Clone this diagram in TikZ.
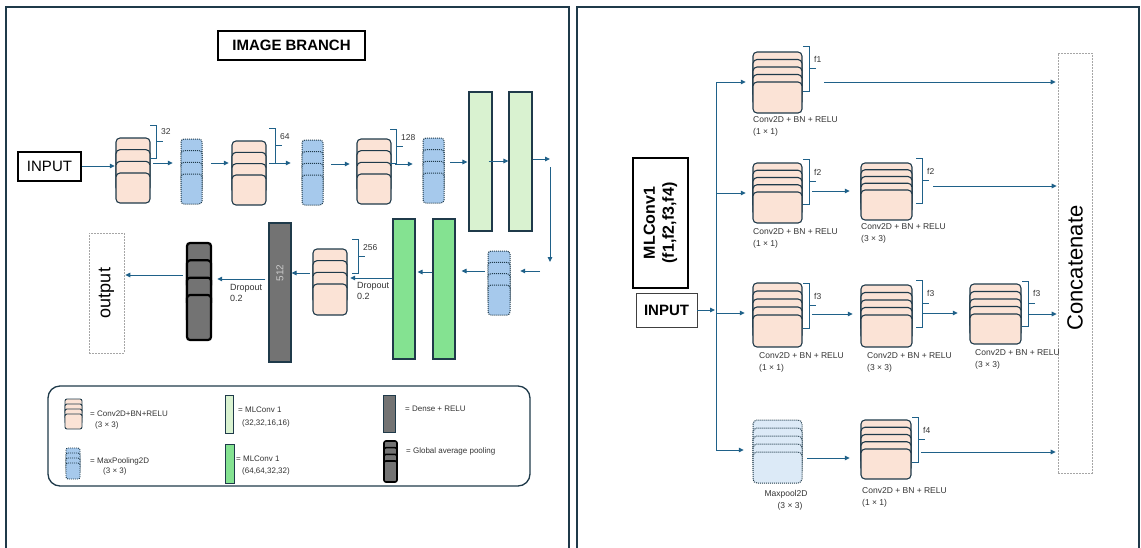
\documentclass[tikz,border=0pt]{standalone}
\usepackage{fontspec}
\setmainfont{Liberation Sans}
\usetikzlibrary{arrows.meta,fit,calc}
\definecolor{navy}{HTML}{1F3A4A}
\definecolor{arrowc}{HTML}{1F6189}
\definecolor{peach}{HTML}{FBE3D6}
\definecolor{poolblue}{HTML}{A6C9EC}
\definecolor{paleblue}{HTML}{DCEAF7}
\definecolor{lgreen}{HTML}{D9F2D0}
\definecolor{dgreen}{HTML}{84E291}
\definecolor{densegray}{HTML}{737373}
\definecolor{dashgray}{HTML}{A6A6A6}
\newcommand{\stk}[8]{%
  \node[fit={(#2,#3) (#4,#5)}, inner sep=0pt] (#1) {};
  \pgfmathsetmacro\stkoff{(#5-#7-#3)/(#6-1)}
  \foreach \k in {1,...,#6}{
    \pgfmathsetmacro\stkt{#3+(\k-1)*\stkoff}
    \draw[#8] (#2,\stkt) rectangle (#4,\stkt+#7);
  }
}
\newcommand{\brk}[6]{%
  \draw[brk] (#2,#3) -- (#2+6,#3) -- (#2+6,#4) -- (#2,#4);
  \draw[brk] (#2+6,{(#3+#4)/2}) -- (#2+13,{(#3+#4)/2});
  \node[lbl, anchor=west] (#1) at (#2+10,#3+#6) {#5};
}
\begin{document}
\begin{tikzpicture}[x=1pt,y=-1pt,
  convcard/.style={draw=navy, fill=peach, line width=1.1pt, rounded corners=4pt},
  poolcard/.style={draw=navy, fill=poolblue, line width=1pt, densely dotted, rounded corners=3pt},
  lpoolcard/.style={draw=navy, fill=paleblue, line width=1pt, densely dotted, rounded corners=4pt},
  gapcard/.style={draw=black, fill=densegray, line width=2.2pt, rounded corners=3pt},
  lgbox/.style={draw=navy, fill=lgreen, line width=1.1pt, inner sep=0pt},
  dgbox/.style={draw=navy, fill=dgreen, line width=1.1pt, inner sep=0pt},
  densebox/.style={draw=navy, fill=densegray, line width=1.1pt, inner sep=0pt},
  dashbox/.style={draw=dashgray, dash pattern=on 2pt off 1pt, line width=0.6pt, inner sep=0pt},
  arr/.style={draw=arrowc, line width=1pt, -{Triangle[length=5pt,width=4.5pt]}},
  trunk/.style={draw=arrowc, line width=1pt},
  brk/.style={draw=arrowc, line width=1pt},
  lbl/.style={inner sep=1pt, font=\fontsize{8.5}{10}\selectfont, text=black!80},
  small/.style={inner sep=0pt, font=\fontsize{8.5}{12}\selectfont, text=black!80, align=left},
  leg/.style={inner sep=0pt, anchor=west, font=\fontsize{8}{9}\selectfont, text=black!80},
  panel/.style={draw=navy, line width=1.4pt}
]
\useasboundingbox (0,0) rectangle (1141,547);
% panels
\draw[panel] (6,549) -- (6,7) -- (569,7) -- (569,549);
\draw[panel] (577,549) -- (577,7) -- (1139,7) -- (1139,549);

% ================= LEFT: IMAGE BRANCH =================
\node[draw=black, line width=1.8pt, minimum width=147pt, minimum height=29pt, inner sep=0pt,
      font=\fontsize{15}{18}\selectfont\bfseries] (title) at (291.5,45.5) {IMAGE BRANCH};
\node[draw=black, line width=1.6pt, minimum width=63pt, minimum height=29pt, inner sep=0pt,
      font=\fontsize{15}{18}\selectfont] (in1) at (49.5,166.5) {INPUT};

\stk{c1}{116}{138}{150}{203}{4}{30}{convcard}
\stk{p1}{181}{139}{202}{204}{4}{30}{poolcard}
\stk{c2}{232}{141}{266}{205}{4}{30}{convcard}
\stk{p2}{302}{140}{323}{205}{4}{30}{poolcard}
\stk{c3}{357}{139}{391}{204}{4}{30}{convcard}
\stk{p3}{423}{138}{444}{203}{4}{30}{poolcard}
\node[lgbox, fit={(469,92) (492,231)}] (g1) {};
\node[lgbox, fit={(509,92) (532,231)}] (g2) {};
\stk{p4}{488}{251}{510}{315}{4}{30}{poolcard}
\node[dgbox, fit={(433,219) (455,359)}] (g3) {};
\node[dgbox, fit={(393,219) (415,359)}] (g4) {};
\stk{c4}{313}{249}{347}{315}{4}{31}{convcard}
\node[densebox, fit={(269,223) (291,362)}] (d1) {};
\node[rotate=90, inner sep=0pt, text=black!20, font=\fontsize{10}{12}\selectfont] (d1t) at (280,273) {512};
\stk{gap}{187}{243}{211}{340}{4}{45}{gapcard}
\node[dashbox, fit={(89,233) (124,353)}] (out) {};
\node[rotate=90, inner sep=0pt, font=\fontsize{18}{20}\selectfont] (outt) at (out.center) {output};

\brk{b32}{150}{125}{158}{32}{7}
\brk{b64}{269}{128}{163}{64}{9}
\brk{b128}{390}{129}{163}{128}{9}
\brk{b256}{352}{239}{273}{256}{9}

% left arrows
\draw[arr, shorten >=1pt] (in1.east |- 0,166) -- (c1.west |- 0,166);
\draw[arr, shorten <=3pt, shorten >=8pt] (c1.east |- 0,163) -- (p1.west |- 0,163);
\draw[arr, shorten <=9pt, shorten >=3pt] (p1.east |- 0,163) -- (c2.west |- 0,163);
\draw[arr, shorten <=3pt, shorten >=11pt] (c2.east |- 0,163) -- (p2.west |- 0,163);
\draw[arr, shorten <=8pt, shorten >=7pt] (p2.east |- 0,164) -- (c3.west |- 0,164);
\draw[arr, shorten <=4pt, shorten >=10pt] (c3.east |- 0,164) -- (p3.west |- 0,164);
\draw[arr, shorten <=6pt, shorten >=1pt] (p3.east |- 0,162) -- (g1.west |- 0,162);
\draw[arr, shorten <=-4pt] (g1.east |- 0,161) -- (g2.west |- 0,161);
\coordinate (q1) at (550,159);
\draw[arr] (g2.east |- q1) -- (q1);
\coordinate (q2) at (550,167);
\coordinate (q3) at (550,262);
\draw[arr] (q2) -- (q3);
\coordinate (q4) at (540,271);
\draw[arr, shorten >=10pt] (q4) -- (q4 -| p4.east);
\draw[arr, shorten <=3pt, shorten >=6pt] (p4.west |- 0,271) -- (g3.east |- 0,271);
\draw[arr, shorten >=2pt] (g3.west |- 0,272) -- (g4.east |- 0,272);
\draw[arr, shorten >=3pt] (g4.west |- 0,278) -- (c4.east |- 0,278);
\draw[arr, shorten <=3pt] (c4.west |- 0,273) -- (d1.east |- 0,273);
\draw[arr, shorten <=3pt, shorten >=6pt] (d1.west |- 0,279) -- (gap.east |- 0,279);
\draw[arr, shorten <=4pt, shorten >=1pt] (gap.west |- 0,275) -- (out.east |- 0,275);

\node[small, anchor=north west, font=\fontsize{9}{11}\selectfont] (do1) at (357,282) {Dropout\\0.2};
\node[small, anchor=north west, font=\fontsize{9}{11}\selectfont] (do2) at (230,284) {Dropout\\0.2};

% legend
\node[draw=navy, line width=1.3pt, rounded corners=12pt, fit={(48,386) (530,486)}, inner sep=0pt] (legend) {};
\stk{lc}{65}{399}{82}{429}{4}{15}{convcard, line width=0.9pt, rounded corners=2pt}
\stk{lp}{66}{448}{80}{479}{4}{16}{poolcard, line width=0.9pt, rounded corners=2pt}
\node[lgbox, line width=0.9pt, fit={(225,395) (233,433)}] (llg) {};
\node[dgbox, line width=0.9pt, fit={(225,444) (234,483)}] (ldg) {};
\node[densebox, line width=0.9pt, fit={(383,395) (395,432)}] (ld) {};
\stk{lgap}{384}{441}{397}{482}{4}{21}{gapcard, line width=1.6pt, rounded corners=2pt}
\node[leg] (lt1) at (90,414) {= Conv2D+BN+RELU};
\node[leg] (lt2) at (95,425) {(3 × 3)};
\node[leg] (lt3) at (90,461) {= MaxPooling2D};
\node[leg] (lt4) at (103,471) {(3 × 3)};
\node[leg] (lt5) at (238,410) {= MLConv 1};
\node[leg] (lt6) at (242,423) {(32,32,16,16)};
\node[leg] (lt7) at (236,459) {= MLConv 1};
\node[leg] (lt8) at (242,471) {(64,64,32,32)};
\node[leg] (lt9) at (405,409) {= Dense + RELU};
\node[leg] (lt10) at (406,451) {= Global average pooling};

% ================= RIGHT: MLConv1 =================
\node[draw=black, line width=1.6pt, fit={(633,158) (688,288)}, inner sep=0pt] (mlbox) {};
\node[rotate=90, align=center, inner sep=0pt, font=\fontsize{16}{19}\selectfont\bfseries] (mlt) at (mlbox.center) {MLConv1\\(f1,f2,f3,f4)};
\node[draw=black!75, line width=0.8pt, minimum width=61pt, minimum height=34pt, inner sep=0pt,
      font=\fontsize{15}{18}\selectfont\bfseries] (in2) at (666.5,310) {INPUT};
\node[dashbox, fit={(1058,53) (1092,473)}] (cc) {};
\node[rotate=90, inner sep=0pt, font=\fontsize{22}{24}\selectfont] (cct) at (1075,268) {Concatenate};

\stk{r1}{753}{52}{802}{113}{5}{31}{convcard}
\stk{r2}{753}{163}{802}{223}{5}{31}{convcard}
\stk{r3}{861}{163}{912}{220}{5}{30}{convcard}
\stk{r4}{753}{283}{802}{347}{5}{32}{convcard}
\stk{r5}{861}{285}{912}{347}{5}{32}{convcard}
\stk{r6}{970}{284}{1021}{344}{5}{30}{convcard}
\stk{r7}{753}{420}{802}{483}{5}{31}{lpoolcard}
\stk{r8}{861}{420}{911}{479}{5}{30}{convcard}

\brk{f1}{803}{46}{91}{f1}{13}
\brk{f2a}{803}{159}{204}{f2}{13}
\brk{f2b}{916}{158}{203}{f2}{13}
\brk{f3a}{803}{283}{328}{f3}{13}
\brk{f3b}{916}{280}{327}{f3}{13}
\brk{f3c}{1022}{281}{326}{f3}{12}
\brk{f4}{912}{417}{462}{f4}{13}

\node[small, anchor=north west] (rt1) at (753,116) {Conv2D + BN + RELU\\(1 × 1)};
\node[small, anchor=north west] (rt2) at (753,228) {Conv2D + BN + RELU\\(1 × 1)};
\node[small, anchor=north west] (rt3) at (861,223) {Conv2D + BN + RELU\\(3 × 3)};
\node[small, anchor=north west] (rt4) at (759,352) {Conv2D + BN + RELU\\(1 × 1)};
\node[small, anchor=north west] (rt5) at (867,352) {Conv2D + BN + RELU\\(3 × 3)};
\node[small, anchor=north west] (rt6) at (975,349) {Conv2D + BN + RELU\\(3 × 3)};
\node[small, align=center, anchor=north] (rt7) at (786,490) {Maxpool2D\\\hspace*{8pt}(3 × 3)};
\node[small, anchor=north west] (rt8) at (862,487) {Conv2D + BN + RELU\\(1 × 1)};

% trunk and arrows
\coordinate (t1) at (716,82);
\coordinate (t2) at (716,193);
\coordinate (t3) at (716,313);
\coordinate (t4) at (716,450);
\draw[trunk] (t1) -- (t4);
\draw[arr, shorten >=1pt] (in2.east) -- (in2.east -| t1);
\draw[arr, shorten >=7pt] (t1) -- (t1 -| r1.west);
\draw[arr, shorten >=7pt] (t2) -- (t2 -| r2.west);
\draw[arr, shorten >=8pt] (t3) -- (t3 -| r4.west);
\draw[arr, shorten >=9pt] (t4) -- (t4 -| r7.west);

\draw[arr, shorten <=22pt, shorten >=2pt] (r1.east |- 0,82) -- (cc.west |- 0,82);
\draw[arr, shorten <=10pt, shorten >=11pt] (r2.east |- 0,191) -- (r3.west |- 0,191);
\draw[arr, shorten <=21pt, shorten >=1pt] (r3.east |- 0,186) -- (cc.west |- 0,186);
\draw[arr, shorten <=10pt, shorten >=8pt] (r4.east |- 0,314) -- (r5.west |- 0,314);
\draw[arr, shorten <=11pt, shorten >=12pt] (r5.east |- 0,313) -- (r6.west |- 0,313);
\draw[arr, shorten <=8pt, shorten >=1pt] (r6.east |- 0,314) -- (cc.west |- 0,314);
\draw[arr, shorten <=5pt, shorten >=11pt] (r7.east |- 0,458) -- (r8.west |- 0,458);
\draw[arr, shorten <=10pt, shorten >=2pt] (r8.east |- 0,452) -- (cc.west |- 0,452);
\end{tikzpicture}
\end{document}
